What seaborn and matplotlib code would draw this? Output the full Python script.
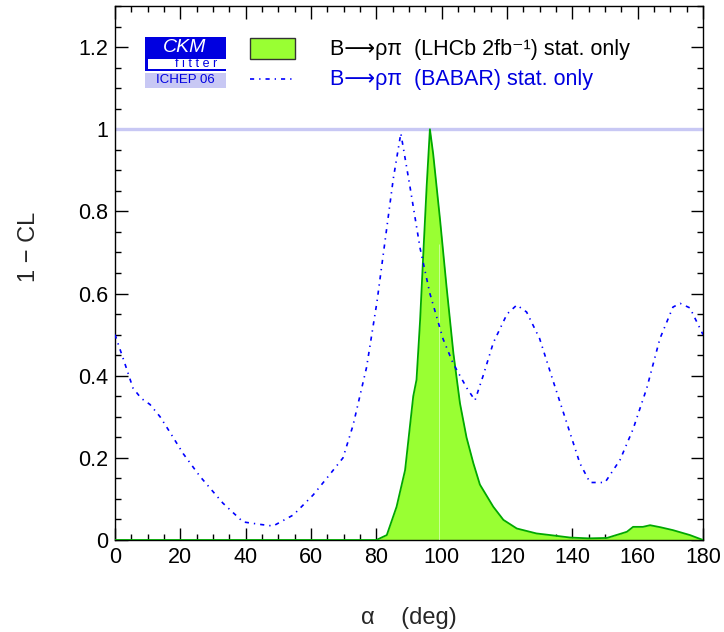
import matplotlib
matplotlib.use("Agg")
import matplotlib.pyplot as plt
from matplotlib.patches import Rectangle
from matplotlib.ticker import MultipleLocator, FuncFormatter
from matplotlib.lines import Line2D
import seaborn as sns
import pandas as pd

# BABAR B->rho pi, stat. only (dash-dot blue)
babar_alpha = [0, 3, 5.5, 8, 10.7, 13.8, 17, 20.9, 26, 33, 39.2, 44.4, 48.4, 54.6, 60.7, 65.8, 69.8,
               72.9, 77, 80.2, 83.2, 85.2, 87.5, 90.3, 93.4, 96.4, 100.4, 103.5, 107.7, 110.2, 112.7,
               115.8, 120, 123, 126, 130, 134, 138.3, 142.3, 145.4, 150, 154.6, 158.6, 162.8, 166.8,
               170.8, 173, 176, 180]
babar_cl = [0.50, 0.43, 0.37, 0.345, 0.33, 0.30, 0.26, 0.21, 0.155, 0.09, 0.044, 0.038, 0.034, 0.061,
            0.11, 0.16, 0.20, 0.28, 0.42, 0.58, 0.76, 0.88, 0.99, 0.86, 0.71, 0.60, 0.49, 0.43, 0.37,
            0.34, 0.40, 0.48, 0.55, 0.572, 0.555, 0.49, 0.39, 0.285, 0.187, 0.14, 0.14, 0.195, 0.27,
            0.37, 0.49, 0.567, 0.576, 0.565, 0.50]

# LHCb 2fb-1 B->rho pi, stat. only (green filled)
lhcb_alpha = [0, 80, 83.2, 86.2, 88.8, 91.3, 92.3, 93.4, 94.4, 95.4, 96.4, 97.4, 99.5, 101.5, 103.6,
              105.6, 107.6, 109.7, 111.7, 115.8, 118.9, 123, 129, 133.2, 139.3, 145, 150.6, 155.5,
              156.7, 158.6, 161.6, 163.8, 167, 170.8, 176, 180]
lhcb_cl = [0, 0, 0.012, 0.081, 0.17, 0.35, 0.39, 0.535, 0.70, 0.86, 1.0, 0.94, 0.78, 0.616, 0.454,
           0.333, 0.25, 0.187, 0.135, 0.081, 0.049, 0.028, 0.016, 0.012, 0.006, 0.004, 0.005,
           0.017, 0.02, 0.032, 0.032, 0.036, 0.031, 0.024, 0.012, 0.0]

babar = pd.DataFrame({"alpha": babar_alpha, "cl": babar_cl})
lhcb = pd.DataFrame({"alpha": lhcb_alpha, "cl": lhcb_cl})

sns.set_style("ticks")
plt.rcParams['font.family'] = ['Liberation Sans', 'DejaVu Sans']

fig = plt.figure(figsize=(7.24, 6.32), dpi=100)
ax = fig.add_axes([115 / 724, 1 - 540 / 632, 588 / 724, 534 / 632])

fill_col = '#99ff33'
edge_col = '#00a800'
babar_dash = (0, (2.5, 3, 0.8, 3))

ax.axhline(1, color='#c8c8f4', lw=2.4, zorder=1)
ax.fill_between(lhcb["alpha"], 0, lhcb["cl"], color=fill_col, lw=0, zorder=2)
sns.lineplot(data=lhcb, x="alpha", y="cl", ax=ax, color=edge_col, lw=1.3, zorder=3, sort=False)
ax.vlines(99.2, 0, 0.72, color='white', lw=0.7, alpha=0.5, zorder=3)
sns.lineplot(data=babar, x="alpha", y="cl", ax=ax, color='#0000ff', lw=1.2, zorder=4, sort=False,
             linestyle=babar_dash)

ax.set_xlim(0, 180)
ax.set_ylim(0, 1.3)
ax.xaxis.set_major_locator(MultipleLocator(20))
ax.xaxis.set_minor_locator(MultipleLocator(5))
ax.yaxis.set_major_locator(MultipleLocator(0.2))
ax.yaxis.set_minor_locator(MultipleLocator(0.05))
ax.yaxis.set_major_formatter(FuncFormatter(lambda v, p: f"{v:g}"))
ax.tick_params(which='both', direction='in', top=True, right=True, labelsize=15.5, colors='black')
ax.tick_params(which='major', length=9, width=1.0, pad=5)
ax.tick_params(which='minor', length=4.5, width=1.0)
for s in ax.spines.values():
    s.set_linewidth(1.0)
    s.set_color('black')

ax.set_xlabel("α    (deg)", fontsize=17)
ax.xaxis.set_label_coords(0.5, -0.125)
ax.set_ylabel("1 − CL", fontsize=17)
ax.yaxis.set_label_coords(-0.128, 0.549)

# CKMfitter logo
def px(x, y):
    return x / 724, 1 - y / 632

tf = fig.transFigure
fig.patches.append(Rectangle(px(145, 71), 81 / 724, 34 / 632, transform=tf, color='#0000e0', lw=0))
fig.patches.append(Rectangle(px(147.5, 69), 78.5 / 724, 10.5 / 632, transform=tf, color='white', lw=0))
fig.patches.append(Rectangle(px(145, 88), 81 / 724, 15 / 632, transform=tf, color='#c8c8f4', lw=0))
fig.text(*px(185, 48), "CKM", color='white', fontsize=14, style='italic', ha='center', va='center')
fig.text(*px(196, 64), "f i t t e r", color='#0000e0', fontsize=9, ha='center', va='center')
fig.text(*px(185, 80), "ICHEP 06", color='#0000e0', fontsize=9.5, ha='center', va='center')

# legend
fig.patches.append(Rectangle(px(250, 59), 45 / 724, 21 / 632, transform=tf, facecolor=fill_col,
                             edgecolor='#333333', lw=1.0))
fig.lines.append(Line2D([250 / 724, 295 / 724], [1 - 79 / 632] * 2, transform=tf, color='#0000ff',
                        lw=1.2, linestyle=babar_dash))
fig.text(*px(330, 49), "B⟶ρπ  (LHCb 2fb⁻¹) stat. only", color='black',
         fontsize=15.5, va='center')
fig.text(*px(330, 79), "B⟶ρπ  (BABAR) stat. only", color='#0000e0', fontsize=15.5,
         va='center')

fig.savefig("out.png", dpi=100)
